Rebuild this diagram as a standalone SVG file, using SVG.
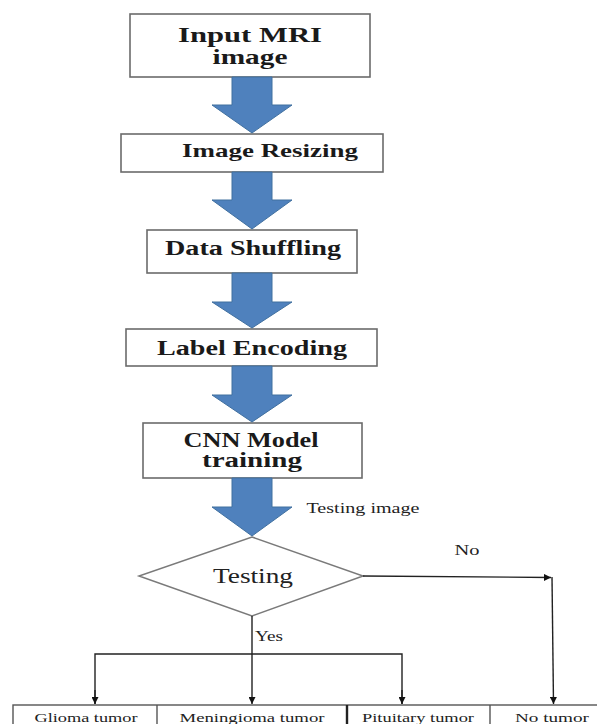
<svg xmlns="http://www.w3.org/2000/svg" width="597" height="724" viewBox="0 0 597 724">
<defs>
<style>
.box{fill:#fff;stroke:#6b6b6b;stroke-width:1.6}
.blk{fill:#4f81bd;stroke:#41709f;stroke-width:1}
.tb{font-family:"Liberation Serif",serif;font-weight:bold;fill:#1a1a1a;text-anchor:middle}
.tr{font-family:"Liberation Serif",serif;fill:#222;text-anchor:middle}
.ln{stroke:#222;stroke-width:1.4;fill:none}
</style>
<marker id="ah" viewBox="0 0 10 10" refX="10" refY="5" markerWidth="7" markerHeight="7" markerUnits="userSpaceOnUse" orient="auto">
<path d="M0,0 L10,5 L0,10 Z" fill="#111"/>
</marker>
</defs>
<rect width="597" height="724" fill="#fff"/>

<g id="input">
<rect class="box" x="130" y="14" width="240" height="63"/>
<text class="tb" x="250" y="42" font-size="21" textLength="144" lengthAdjust="spacingAndGlyphs">Input MRI</text>
<text class="tb" x="250" y="64" font-size="21" textLength="75" lengthAdjust="spacingAndGlyphs">image</text>
</g>

<g id="resize">
<rect class="box" x="121" y="134" width="262" height="38"/>
<text class="tb" x="270" y="157" font-size="19" textLength="176" lengthAdjust="spacingAndGlyphs">Image Resizing</text>
</g>

<g id="shuffle">
<rect class="box" x="147" y="230" width="210" height="43"/>
<text class="tb" x="253" y="255" font-size="20" textLength="176" lengthAdjust="spacingAndGlyphs">Data Shuffling</text>
</g>

<g id="encode">
<rect class="box" x="126" y="329" width="251" height="37"/>
<text class="tb" x="252" y="355" font-size="20" textLength="190" lengthAdjust="spacingAndGlyphs">Label Encoding</text>
</g>

<g id="cnn">
<rect class="box" x="143" y="423" width="219" height="55"/>
<text class="tb" x="251" y="447" font-size="20" textLength="135" lengthAdjust="spacingAndGlyphs">CNN Model</text>
<text class="tb" x="252" y="467" font-size="20" textLength="100" lengthAdjust="spacingAndGlyphs">training</text>
</g>

<g id="testing">
<polygon points="252,537 363,576 252,616 139,576" fill="#fff" stroke="#7a7a7a" stroke-width="1.5"/>
<text class="tr" x="253" y="583" font-size="20" textLength="80" lengthAdjust="spacingAndGlyphs">Testing</text>
</g>

<g id="outputs">
<rect x="13" y="705" width="590" height="30" fill="#fff" stroke="#555" stroke-width="1.4"/>
<line x1="157" y1="705" x2="157" y2="724" stroke="#555" stroke-width="1.4"/>
<line x1="347" y1="705" x2="347" y2="724" stroke="#222" stroke-width="2.4"/>
<line x1="490" y1="705" x2="490" y2="724" stroke="#555" stroke-width="1.4"/>
<text class="tr" x="86" y="722" font-size="13.5" textLength="103" lengthAdjust="spacingAndGlyphs">Glioma tumor</text>
<text class="tr" x="252" y="722" font-size="13.5" textLength="145" lengthAdjust="spacingAndGlyphs">Meningioma tumor</text>
<text class="tr" x="418" y="722" font-size="13.5" textLength="112" lengthAdjust="spacingAndGlyphs">Pituitary tumor</text>
<text class="tr" x="552" y="722" font-size="13.5" textLength="74" lengthAdjust="spacingAndGlyphs">No tumor</text>
</g>

<g id="connectors">
<path class="blk" d="M232,77 H272 V105 H292 L252,133 L212,105 H232 Z"/>
<path class="blk" d="M232,172 H272 V200 H292 L252,229 L212,200 H232 Z"/>
<path class="blk" d="M232,273 H272 V302 H292 L252,328 L212,302 H232 Z"/>
<path class="blk" d="M232,366 H272 V395 H292 L252,422 L212,395 H232 Z"/>
<path class="blk" d="M232,478 H272 V507 H292 L252,536 L212,507 H232 Z"/>
<line class="ln" x1="363" y1="576" x2="551" y2="577.5" marker-end="url(#ah)"/>
<line class="ln" x1="552" y1="577" x2="553.5" y2="704" marker-end="url(#ah)"/>
<line class="ln" x1="252" y1="616" x2="252" y2="704" marker-end="url(#ah)"/>
<polyline class="ln" points="95,704 95,654 402,654 402,704"/>
<line class="ln" x1="95" y1="690" x2="95" y2="704" marker-end="url(#ah)"/>
<line class="ln" x1="402" y1="690" x2="402" y2="704" marker-end="url(#ah)"/>
<text class="tr" x="363" y="513" font-size="14" textLength="113" lengthAdjust="spacingAndGlyphs">Testing image</text>
<text class="tr" x="467" y="555" font-size="14" textLength="25" lengthAdjust="spacingAndGlyphs">No</text>
<text x="255" y="641" font-family="Liberation Serif, serif" font-size="14" fill="#222" textLength="28" lengthAdjust="spacingAndGlyphs">Yes</text>
</g>
</svg>
